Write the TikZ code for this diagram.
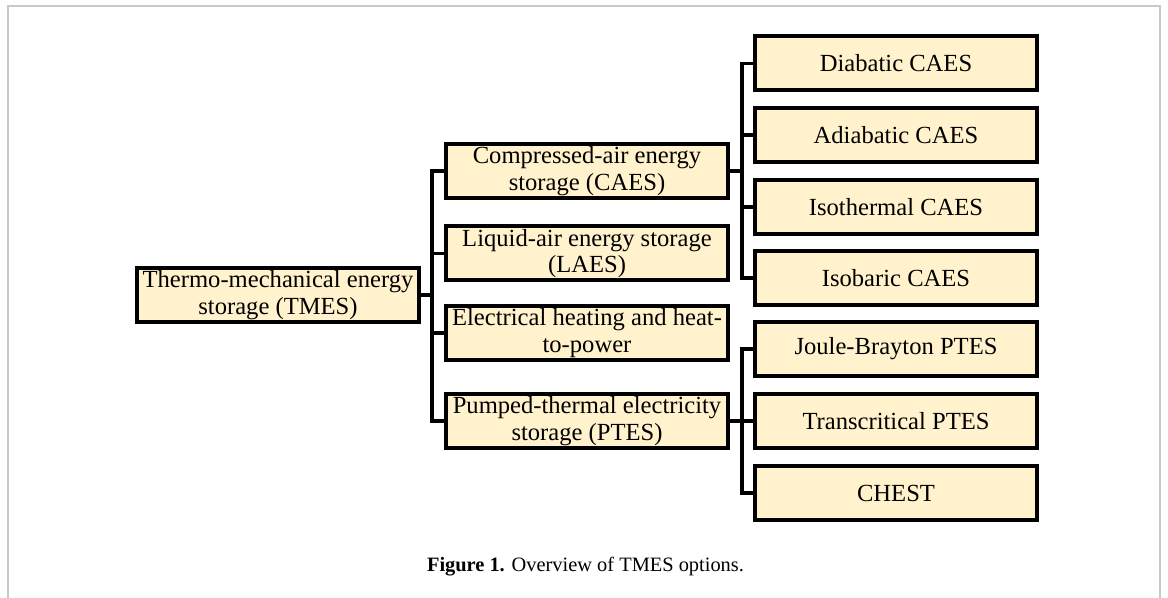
\documentclass[tikz,border=0pt]{standalone}
\usepackage{fontspec}
\setmainfont{Liberation Serif}
\definecolor{boxfill}{HTML}{FFF2CC}
\definecolor{framegray}{HTML}{C8C8C8}
\begin{document}
\begin{tikzpicture}[x=0.5pt,y=-0.5pt,
    box/.style={draw,line width=2pt,fill=boxfill,inner sep=0pt,align=center,
        minimum width=141pt,minimum height=27pt,
        font=\fontsize{12.3}{13.4}\selectfont},
    link/.style={line width=1.7pt}]
\useasboundingbox (0,0) rectangle (1168,598);
\draw[framegray,line width=0.8pt](8,598)--(8,6)--(1160,6)--(1160,598);
% root and first level
\node[box](tmes) at (278,295){Thermo-mechanical energy\\storage (TMES)};
\node[box](caes) at (587,171){Compressed-air energy\\storage (CAES)};
\node[box](laes) at (587,253.5){Liquid-air energy storage\\(LAES)};
\node[box](ehp) at (587,333){Electrical heating and heat-\\to-power};
\node[box](ptes) at (587,421){Pumped-thermal electricity\\storage (PTES)};
% CAES options
\node[box](dcaes) at (896,63.5){Diabatic CAES};
\node[box](acaes) at (896,135){Adiabatic CAES};
\node[box](icaes) at (896,207){Isothermal CAES};
\node[box](bcaes) at (896,278){Isobaric CAES};
% PTES options
\node[box](jbptes) at (896,349){Joule-Brayton PTES};
\node[box](tcptes) at (896,421){Transcritical PTES};
\node[box](chest) at (896,493){CHEST};
% trunks
\coordinate(t1) at (432,295);
\coordinate(t2) at (742,171);
\coordinate(t3) at (742,421);
\draw[link](tmes.east)--(t1);
\draw[link](caes.west)-|(t1)|-(ptes.west);
\foreach \n in {laes,ehp}
    \draw[link](\n.west)--(\n.west-|t1);
\draw[link](caes.east)--(t2);
\draw[link](dcaes.west)-|(t2)|-(bcaes.west);
\foreach \n in {acaes,icaes}
    \draw[link](\n.west)--(\n.west-|t2);
\draw[link](ptes.east)--(t3);
\draw[link](jbptes.west)-|(t3)|-(chest.west);
\draw[link](tcptes.west)--(tcptes.west-|t3);
\node(cap) at (585.5,567){\fontsize{10.2}{12}\selectfont\textbf{Figure 1.} Overview of TMES options.};
\end{tikzpicture}
\end{document}
